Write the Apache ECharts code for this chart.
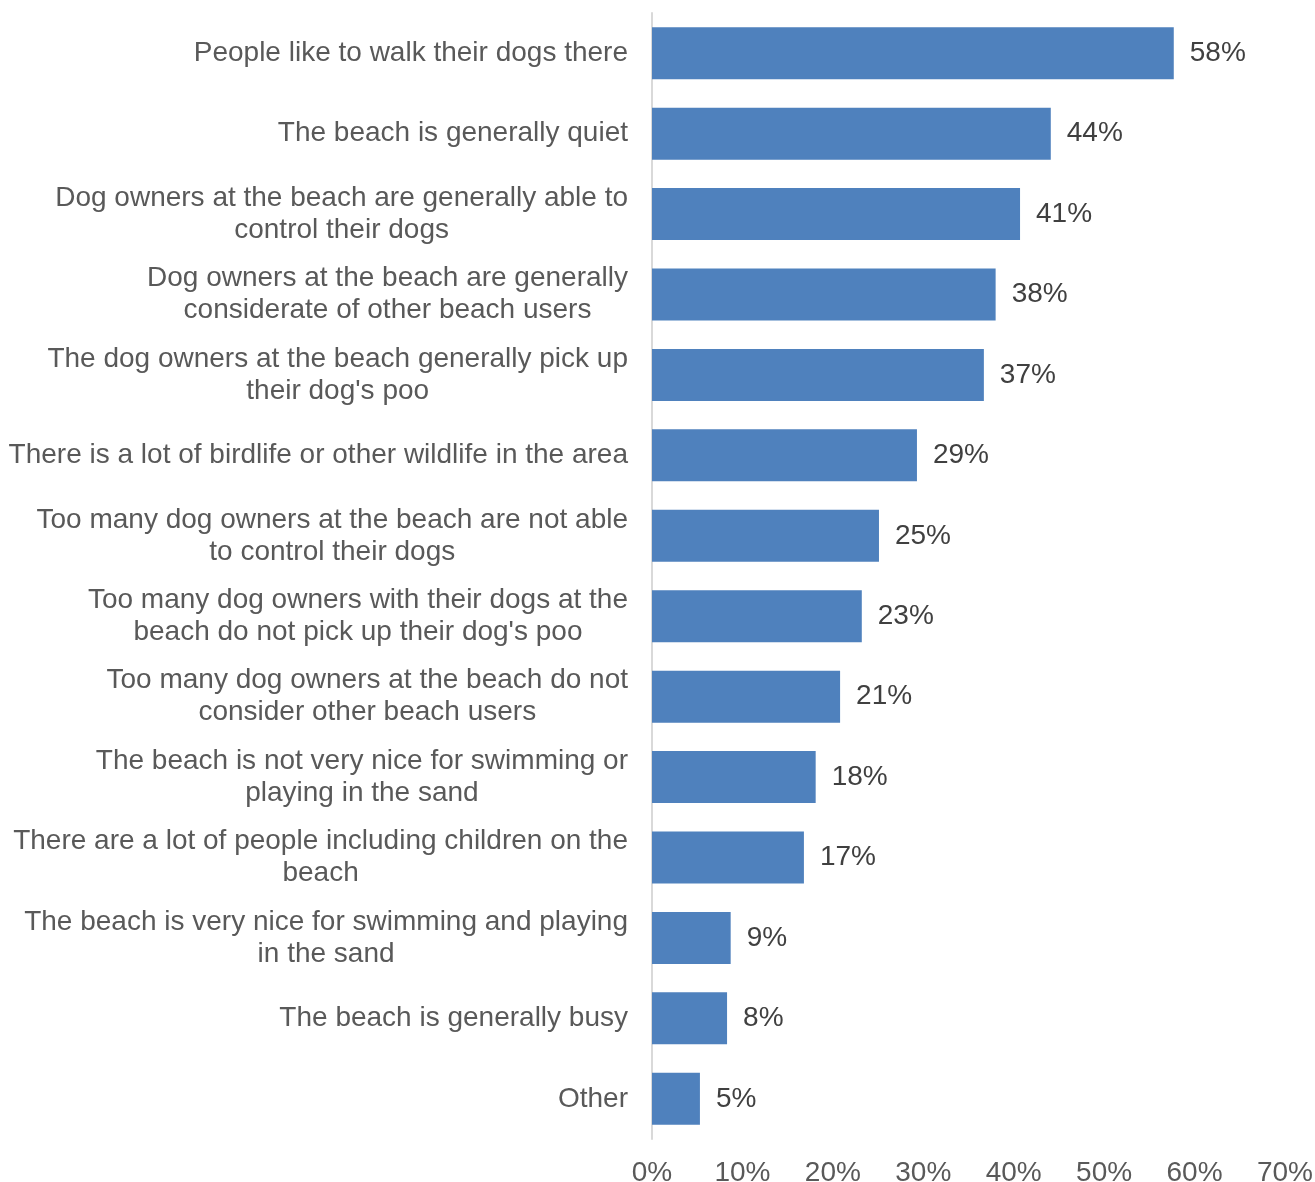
<!DOCTYPE html>
<html>
<head>
<meta charset="utf-8">
<script src="https://cdn.jsdelivr.net/npm/echarts@6/dist/echarts.min.js"></script>
<style>
  html, body { margin: 0; padding: 0; background: #fff; }
  #chart { width: 1315px; height: 1182px; }
</style>
</head>
<body>
<div id="chart"></div>
<script>
// reasons, top to bottom (line breaks as in the original)
const categories = [
  'People like to walk their dogs there',
  'The beach is generally quiet',
  'Dog owners at the beach are generally able to\ncontrol their dogs',
  'Dog owners at the beach are generally\nconsiderate of other beach users',
  'The dog owners at the beach generally pick up\ntheir dog\'s poo',
  'There is a lot of birdlife or other wildlife in the area',
  'Too many dog owners at the beach are not able\nto control their dogs',
  'Too many dog owners with their dogs at the\nbeach do not pick up their dog\'s poo',
  'Too many dog owners at the beach do not\nconsider other beach users',
  'The beach is not very nice for swimming or\nplaying in the sand',
  'There are a lot of people including children on the\nbeach',
  'The beach is very nice for swimming and playing\nin the sand',
  'The beach is generally busy',
  'Other'
];
// share of respondents, %
const values = [57.7, 44.1, 40.7, 38.0, 36.7, 29.3, 25.1, 23.2, 20.8, 18.1, 16.8, 8.7, 8.3, 5.3];
const xTicks = [0, 10, 20, 30, 40, 50, 60, 70];

const FONT = '"Liberation Sans", Arial, sans-serif';
const GREY = '#595959';

const myChart = echarts.init(document.getElementById('chart'));

const option = {
  animation: false,
  grid: {
    left: 652, right: 30, top: 13, bottom: 43,
    containLabel: false,
    outerBoundsMode: 'none'
  },
  xAxis: {
    type: 'value',
    min: xTicks[0],
    max: xTicks[xTicks.length - 1],
    interval: 10,
    axisLine: { show: false },
    axisTick: { show: false },
    splitLine: { show: false },
    axisLabel: {
      margin: 20,
      fontFamily: FONT,
      fontSize: 28,
      color: GREY,
      formatter: v => v + '%'
    }
  },
  yAxis: {
    type: 'category',
    data: categories,
    inverse: true,
    axisLine: { show: true, lineStyle: { color: '#d9d9d9', width: 2 } },
    axisTick: { show: false },
    axisLabel: {
      margin: 24,
      fontFamily: FONT,
      fontSize: 28,
      lineHeight: 32,
      color: GREY,
      // each line centred inside the right-aligned block
      formatter: v => v.split('\n').map(l => '{c|' + l + '}').join('\n'),
      rich: {
        c: { align: 'center', fontFamily: FONT, fontSize: 28, lineHeight: 32, color: GREY }
      }
    }
  },
  series: [
    {
      type: 'bar',
      data: values,
      barWidth: 52,
      itemStyle: { color: '#4f81bd' },
      label: {
        show: true,
        position: 'right',
        distance: 16,
        fontFamily: FONT,
        fontSize: 28,
        color: '#404040',
        formatter: p => Math.round(p.value) + '%'
      }
    }
  ]
};
myChart.setOption(option);
</script>
</body>
</html>
